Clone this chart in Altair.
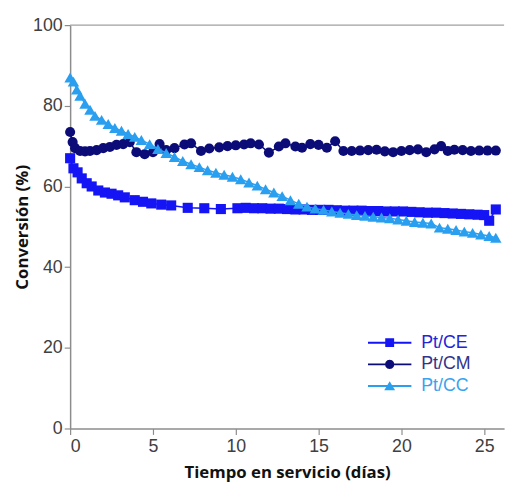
import altair as alt
import pandas as pd

# ---- data ----
ce_x = [0, 0.2, 0.45, 0.7, 1.0, 1.3, 1.7, 2.1, 2.5, 2.9, 3.3, 3.9, 4.4, 4.9, 5.5, 6.1, 7.1, 8.1, 9.1,
        10.1, 10.6, 11.1, 11.6, 12.1, 12.6, 13.1, 13.6, 14.1, 14.6, 15.1, 15.6, 16.1, 16.6, 17.1, 17.6,
        18.1, 18.6, 19.1, 19.6, 20.1, 20.6, 21.1, 21.6, 22.1, 22.6, 23.1, 23.6, 24.1, 24.6, 25.0, 25.3, 25.7]
ce_y = [67.0, 64.5, 63.5, 62.0, 60.8, 60.0, 59.0, 58.5, 58.2, 57.8, 57.3, 56.6, 56.2, 55.8, 55.5, 55.3, 54.7, 54.6, 54.4,
        54.6, 54.7, 54.6, 54.6, 54.5, 54.5, 54.4, 54.3, 54.3, 54.2, 54.2, 54.2, 54.1, 54.0, 54.0, 54.0,
        53.9, 53.9, 53.8, 53.8, 53.8, 53.7, 53.6, 53.5, 53.5, 53.4, 53.3, 53.2, 53.1, 53.0, 52.9, 51.5, 54.3]

cm_x = [0, 0.15, 0.3, 0.6, 0.9, 1.2, 1.6, 2.0, 2.4, 2.8, 3.2, 3.6, 4.0, 4.5, 5.0, 5.4, 5.8, 6.3, 6.9, 7.3,
        7.9, 8.4, 9.0, 9.5, 10.0, 10.5, 10.9, 11.4, 12.0, 12.6, 13.0, 13.6, 14.0, 14.5, 15.0, 15.5, 16.0,
        16.5, 17.0, 17.5, 18.0, 18.5, 19.0, 19.5, 20.0, 20.5, 21.0, 21.5, 22.0, 22.4, 22.8, 23.2, 23.7,
        24.2, 24.7, 25.2, 25.7]
cm_y = [73.5, 71.0, 69.5, 68.8, 68.7, 68.8, 69.0, 69.5, 69.8, 70.3, 70.5, 71.0, 68.5, 68.0, 68.5, 70.5, 69.0, 69.5, 70.4, 70.7,
        68.8, 69.4, 69.7, 70.0, 70.2, 70.4, 70.7, 70.4, 68.4, 69.9, 70.7, 69.9, 69.6, 70.5, 70.3, 69.6, 71.2,
        68.8, 68.8, 68.9, 69.0, 69.1, 68.7, 68.5, 68.8, 69.0, 69.2, 68.5, 69.2, 70.0, 68.8, 69.1, 69.0,
        68.8, 68.9, 68.9, 68.9]

cc_x = [0, 0.2, 0.4, 0.6, 0.9, 1.2, 1.5, 1.9, 2.3, 2.7, 3.1, 3.5, 3.9, 4.3, 4.8, 5.3, 5.8, 6.3, 6.8, 7.3,
        7.8, 8.3, 8.8, 9.3, 9.8, 10.3, 10.8, 11.3, 11.8, 12.3, 12.8, 13.3, 13.8, 14.3, 14.8, 15.3, 15.8,
        16.3, 16.8, 17.3, 17.8, 18.3, 18.8, 19.3, 19.8, 20.3, 20.8, 21.3, 21.8, 22.3, 22.8, 23.3, 23.8,
        24.3, 24.8, 25.3, 25.7]
cc_y = [87.0, 86.0, 84.0, 82.5, 80.5, 79.0, 77.5, 76.5, 75.5, 74.5, 73.8, 73.0, 72.3, 71.5, 70.5, 69.3, 68.3, 67.3, 66.3, 65.5,
        64.8, 64.0, 63.4, 62.9, 62.4, 61.8, 61.0, 60.2, 59.3, 58.5, 57.6, 56.6, 55.7, 55.0, 54.5, 54.2, 53.8,
        53.5, 53.2, 52.9, 52.7, 52.5, 52.3, 52.1, 51.8, 51.5, 51.2, 51.0, 50.8, 49.8, 49.5, 49.2, 48.8,
        48.5, 48.1, 47.7, 47.3]

series_names = ["Pt/CE", "Pt/CM", "Pt/CC"]
series_colors = ["#1414f5", "#0c0c78", "#2a9ff0"]
label_colors = ["#2424d8", "#33338a", "#3aa2ee"]
marker_shapes = ["square", "circle", "triangle-up"]
marker_sizes = [105, 105, 135]

x_ticks = [0, 5, 10, 15, 20, 25]
y_ticks = [0, 20, 40, 60, 80, 100]

frames = []
for name, xs, ys in zip(series_names, [ce_x, cm_x, cc_x], [ce_y, cm_y, cc_y]):
    frames.append(pd.DataFrame({"t": xs, "conv": ys, "series": name}))
df = pd.concat(frames, ignore_index=True)

xscale = alt.Scale(domain=[0, 26.2], nice=False, zero=False)
yscale = alt.Scale(domain=[0, 100], nice=False)

xenc = alt.X("t:Q", scale=xscale, title="Tiempo en servicio (días)",
             axis=alt.Axis(values=x_ticks, grid=False, tickSize=6, labelPadding=3,
                           titlePadding=10))
yenc = alt.Y("conv:Q", scale=yscale, title="Conversión (%)",
             axis=alt.Axis(values=y_ticks, grid=False, tickSize=6, labelPadding=2,
                           titlePadding=1))

layers = []
# top frame line
layers.append(alt.Chart(pd.DataFrame({"v": [100]})).mark_rule(color="#a0a0a0", strokeWidth=1.5)
              .encode(y=alt.Y("v:Q", scale=yscale)))

for name, col, shp, sz in zip(series_names, series_colors, marker_shapes, marker_sizes):
    base = alt.Chart(df).transform_filter(alt.datum.series == name)
    layers.append(base.mark_line(color=col, strokeWidth=1.5).encode(x=xenc, y=yenc))
    layers.append(base.mark_point(filled=True, shape=shp, color=col, size=sz, opacity=1)
                  .encode(x=xenc, y=yenc))

# legend-only layer (no marks drawn, explicit scale domains)
seg = "M-4.4,-0.2H-0.5V0.2H-4.4Z M0.5,-0.2H4.4V0.2H0.5Z "
circle12 = ("M0.95,0L0.823,0.475L0.475,0.823L0,0.95L-0.475,0.823L-0.823,0.475L-0.95,0"
            "L-0.823,-0.475L-0.475,-0.823L0,-0.95L0.475,-0.823L0.823,-0.475Z")
legend_paths = [
    seg + "M-0.9,-0.9H0.9V0.9H-0.9Z",
    seg + circle12,
    seg + "M0,-1.0L1.1,0.85L-1.1,0.85Z",
]
label_expr = ("datum.label == 'Pt/CE' ? '%s' : datum.label == 'Pt/CM' ? '%s' : '%s'"
              % tuple(label_colors))
leg = alt.Legend(title=None, orient="none", legendX=315, legendY=313, padding=0,
                 symbolSize=100, labelOffset=23, rowPadding=4,
                 labelFont="Liberation Sans", labelFontSize=18,
                 labelColor=alt.ExprRef(expr=label_expr), symbolStrokeWidth=0)
layers.append(
    alt.Chart(df).transform_filter("false").mark_point(filled=True, opacity=1, strokeWidth=0)
    .encode(
        x=xenc, y=yenc,
        color=alt.Color("series:N", scale=alt.Scale(domain=series_names, range=series_colors), legend=leg),
        shape=alt.Shape("series:N", scale=alt.Scale(domain=series_names, range=legend_paths), legend=leg),
    )
)

chart = alt.layer(*layers).properties(width=440, height=409).configure_view(stroke=None).configure_axis(
    labelFont="Liberation Sans", labelFontSize=18, labelColor="#404040",
    domainColor="#8c8c8c", tickColor="#8c8c8c", domainWidth=1.5, tickWidth=1.2,
    titleFont="Open Sans", titleFontSize=17, titleFontWeight="bold", titleColor="#111111",
)

chart.save("out.html", embed_options={"renderer": "svg", "actions": False})
